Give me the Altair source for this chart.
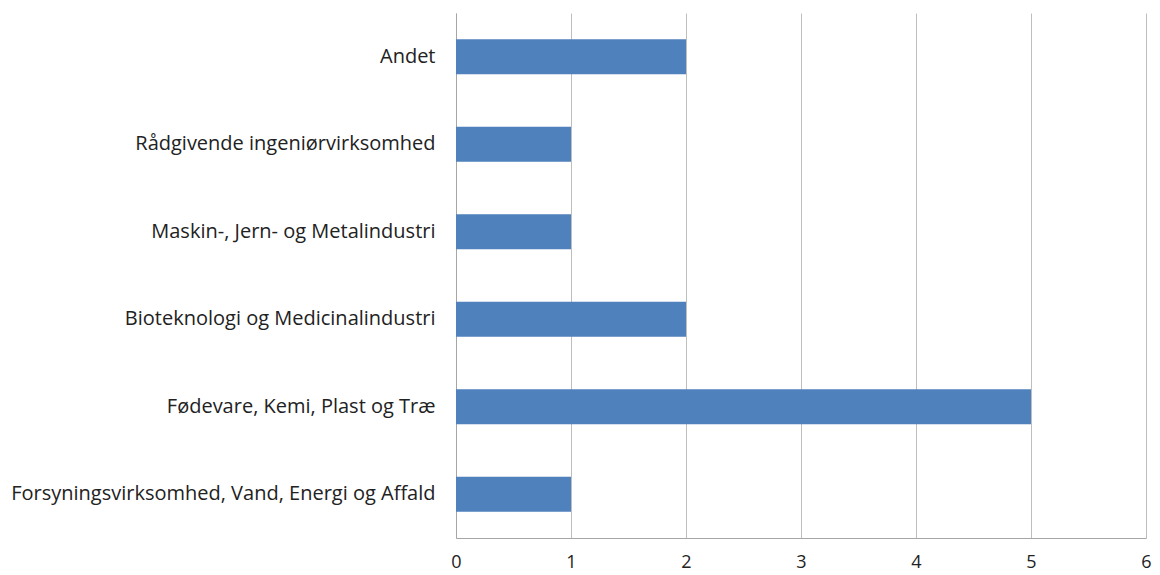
import altair as alt
import pandas as pd

categories = [
    "Andet ",
    "Rådgivende ingeniørvirksomhed",
    "Maskin-, Jern- og Metalindustri",
    "Bioteknologi og Medicinalindustri",
    "Fødevare, Kemi, Plast og Træ",
    "Forsyningsvirksomhed, Vand, Energi og Affald",
]
values = [2, 1, 1, 2, 5, 1]
x_ticks = [0, 1, 2, 3, 4, 5, 6]

df = pd.DataFrame({"category": categories, "value": values})

chart = (
    alt.Chart(df)
    .mark_bar(color="#4F81BD")
    .encode(
        x=alt.X(
            "value:Q",
            scale=alt.Scale(domain=[0, 6], nice=False),
            axis=alt.Axis(
                values=x_ticks,
                title=None,
                grid=True,
                gridColor="#BEBEBE",
                gridWidth=1,
                domainColor="#A6A6A6",
                ticks=False,
                labelFlush=False,
                labelFontSize=18,
                labelFont="Open Sans",
                labelColor="#222222",
                labelPadding=15,
            ),
        ),
        y=alt.Y(
            "category:N",
            sort=categories,
            scale=alt.Scale(paddingInner=0.6, paddingOuter=0.3),
            axis=alt.Axis(
                title=None,
                ticks=False,
                domainColor="#A6A6A6",
                labelFontSize=20,
                labelFont="Open Sans",
                labelColor="#222222",
                labelPadding=21,
                labelLimit=500,
            ),
        ),
    )
    .properties(
        width=690,
        height=525,
        autosize=alt.AutoSizeParams(type="none"),
        padding={"left": 448, "top": 5, "right": 6, "bottom": 36},
    )
    .configure_view(stroke=None)
)

chart.save("out.html", embed_options={"renderer": "svg", "actions": False})
